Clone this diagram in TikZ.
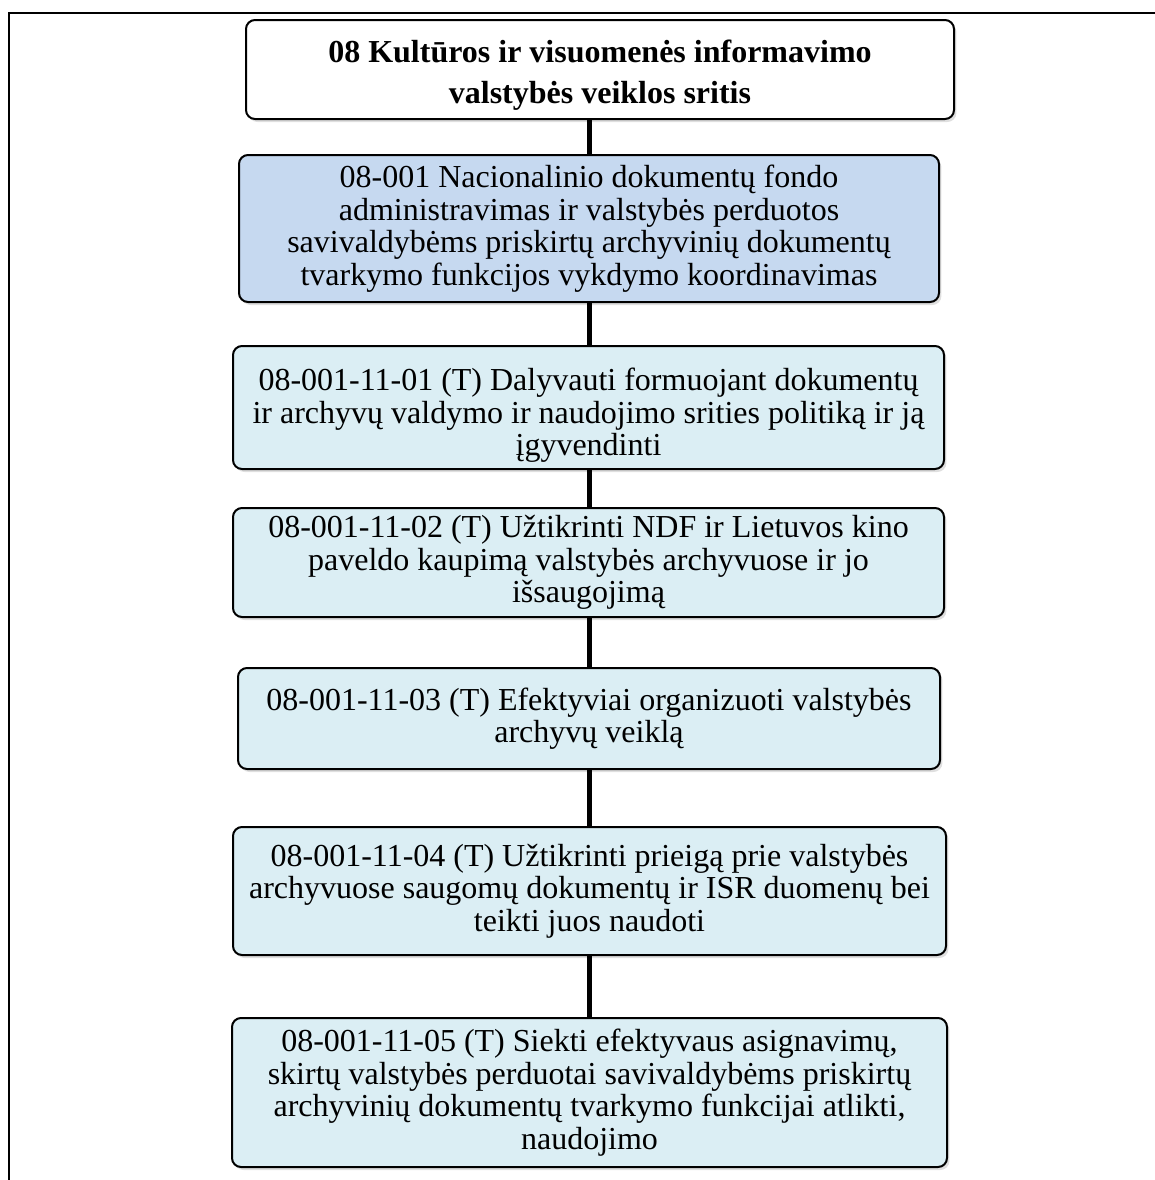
\documentclass[tikz,border=0pt]{standalone}
\usepackage{fontspec}
\setmainfont{Liberation Serif}
\usetikzlibrary{shadows}
\definecolor{fondblue}{HTML}{C6D9F0}
\definecolor{goalblue}{HTML}{DBEEF4}

\begin{document}
\begin{tikzpicture}[x=0.5pt,y=-0.5pt,
  basebox/.style={draw, line width=1pt, rounded corners=4.5pt, align=center, inner sep=0pt,
    font=\fontsize{16}{16.3}\selectfont,
    drop shadow={shadow xshift=1.2pt, shadow yshift=-1.5pt, opacity=0.25}},
  titlebox/.style={basebox, fill=white, font=\fontsize{16}{20.5}\selectfont\bfseries},
  fondbox/.style={basebox, fill=fondblue},
  goalbox/.style={basebox, fill=goalblue},
  link/.style={line width=2.5pt}]
\useasboundingbox (0,0) rectangle (1155,1180);

% outer frame
\draw[line width=1pt] (8.5,1180) -- (8.5,12.5) -- (1155,12.5);

\node[titlebox, minimum width=354pt, minimum height=49.5pt] (b0) at (600,69.5)
  {\rule{0pt}{17pt}08 Kultūros ir visuomenės informavimo\\valstybės veiklos sritis};

\node[fondbox, minimum width=350pt, minimum height=73.5pt] (b1) at (589,228.5)
  {08-001 Nacionalinio dokumentų fondo\\administravimas ir valstybės perduotos\\savivaldybėms priskirtų archyvinių dokumentų\\tvarkymo funkcijos vykdymo koordinavimas};

\node[goalbox, minimum width=355.5pt, minimum height=61.5pt] (b2) at (588.5,407.5)
  {\rule{0pt}{19pt}08-001-11-01 (T) Dalyvauti formuojant dokumentų\\ir archyvų valdymo ir naudojimo srities politiką ir ją\\įgyvendinti};

\node[goalbox, minimum width=355.5pt, minimum height=54.5pt] (b3) at (588.5,562.5)
  {08-001-11-02 (T) Užtikrinti NDF ir Lietuvos kino\\paveldo kaupimą valstybės archyvuose ir jo\\išsaugojimą};

\node[goalbox, minimum width=351pt, minimum height=50.5pt] (b4) at (589,718.5)
  {08-001-11-03 (T) Efektyviai organizuoti valstybės\\archyvų veiklą};

\node[goalbox, minimum width=356.5pt, minimum height=64pt] (b5) at (589.5,891)
  {08-001-11-04 (T) Užtikrinti prieigą prie valstybės\\archyvuose saugomų dokumentų ir ISR duomenų bei\\teikti juos naudoti};

\node[goalbox, minimum width=357.5pt, minimum height=74.5pt] (b6) at (589.5,1092.5)
  {08-001-11-05 (T) Siekti efektyvaus asignavimų,\\skirtų valstybės perduotai savivaldybėms priskirtų\\archyvinių dokumentų tvarkymo funkcijai atlikti,\\naudojimo};

% connectors
\draw[link] (b1.north) -- (b1.north |- b0.south);
\draw[link] (b1.south) -- (b1.south |- b2.north);
\draw[link] (b1.south |- b2.south) -- (b1.south |- b3.north);
\draw[link] (b1.south |- b3.south) -- (b1.south |- b4.north);
\draw[link] (b1.south |- b4.south) -- (b1.south |- b5.north);
\draw[link] (b1.south |- b5.south) -- (b1.south |- b6.north);
\end{tikzpicture}
\end{document}
